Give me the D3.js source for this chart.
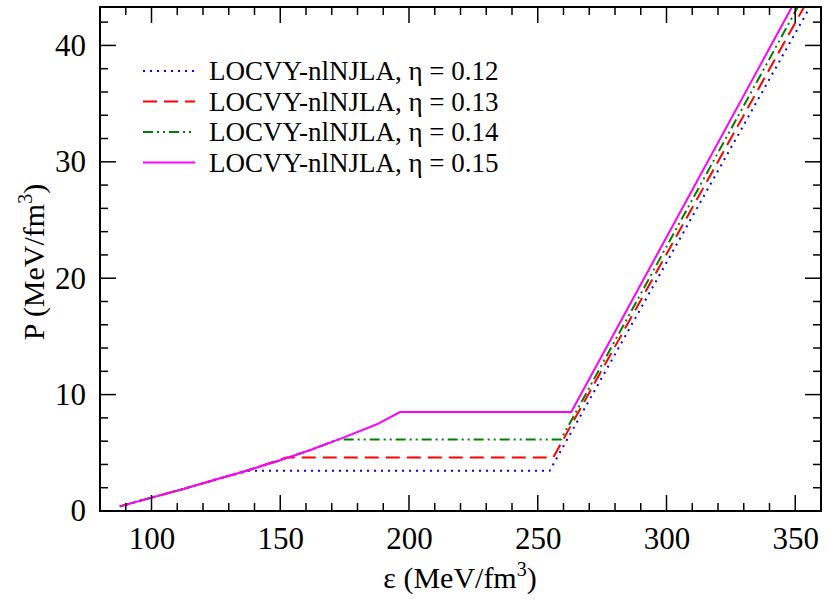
<!DOCTYPE html>
<html><head><meta charset="utf-8">
<script src="https://cdn.jsdelivr.net/npm/d3@7"></script>
<style>body{margin:0;background:#fff}text{font-family:"Liberation Serif","Times New Roman",serif}</style>
</head><body><svg id="c" width="828" height="602"></svg>
<script>
const labels = ["LOCVY-nlNJLA, η = 0.12","LOCVY-nlNJLA, η = 0.13","LOCVY-nlNJLA, η = 0.14","LOCVY-nlNJLA, η = 0.15"];
const colors = ["#0000ff","#ff0000","#008000","#ff00ff"];
const dashes = ["2,5","14,7","10,4,2,4,2,4","none"];
const xTicks = [100,150,200,250,300,350];
const yTicks = [0,10,20,30,40];
const s012 = [[87.7,0.4],[100,1.15],[112.5,1.9],[125,2.7],[137.5,3.45],[254.6,3.45],[355.7,43.3]];
const s013 = [[87.7,0.4],[100,1.15],[112.5,1.9],[125,2.7],[137.5,3.5],[152.4,4.6],[256,4.6],[353.4,43.3]];
const s014 = [[87.7,0.4],[100,1.15],[112.5,1.9],[125,2.7],[137.5,3.5],[150,4.36],[162.5,5.3],[172.4,6.15],[259,6.15],[351,43.3]];
const s015 = [[87.7,0.4],[100,1.15],[112.5,1.9],[125,2.7],[137.5,3.5],[150,4.36],[162.5,5.3],[175,6.35],[187.5,7.45],[196.5,8.5],[263,8.5],[348.7,43.3]];
const series = [s012,s013,s014,s015];

const svg = d3.select("#c");
const L=100,R=821,T=7,B=511;
const x = d3.scaleLinear().domain([80,360]).range([L,R]);
const y = d3.scaleLinear().domain([0,43.3]).range([B,T]);
const g = svg.append("g");
g.append("clipPath").attr("id","cp").append("rect").attr("x",L).attr("y",T).attr("width",R-L).attr("height",B-T);
const line = d3.line().x(d=>x(d[0])).y(d=>y(d[1]));
series.forEach((s,i)=>{
  g.append("path").attr("d",line(s)).attr("clip-path","url(#cp)").attr("fill","none")
   .attr("stroke",colors[i]).attr("stroke-width",2).attr("stroke-dasharray",dashes[i]);
});
g.append("rect").attr("x",L).attr("y",T).attr("width",R-L).attr("height",B-T).attr("fill","none").attr("stroke","#000").attr("stroke-width",2);
const xb = d3.axisBottom(x).tickValues(xTicks).tickSize(0).tickPadding(10);
const ax = g.append("g").attr("transform",`translate(0,${B})`).call(xb).attr("font-family",null);
ax.select(".domain").remove();
ax.selectAll("text").attr("font-size",31).attr("fill","#000").attr("dy","0.9em");
const yl = d3.axisLeft(y).tickValues(yTicks).tickSize(0).tickPadding(14);
const ay = g.append("g").attr("transform",`translate(${L},0)`).call(yl).attr("font-family",null);
ay.select(".domain").remove();
ay.selectAll("text").attr("font-size",31).attr("fill","#000");
const tk = g.append("g").attr("stroke","#000").attr("stroke-width",1.5);
d3.range(80,361,10).forEach(v=>{
  const big = v%50===0, len = big?16:8;
  [[B,-len],[T,len]].forEach(([p,l])=>tk.append("line").attr("x1",x(v)).attr("x2",x(v)).attr("y1",p).attr("y2",p+l));
});
d3.range(0,43.3,2).forEach(v=>{
  const big = v%10===0, len = big?16:8;
  tk.append("line").attr("x1",L).attr("x2",L+len).attr("y1",y(v)).attr("y2",y(v));
  tk.append("line").attr("x1",R).attr("x2",R-len).attr("y1",y(v)).attr("y2",y(v));
});
labels.forEach((lab,i)=>{
  const yy = 71+i*30.5;
  g.append("line").attr("x1",143).attr("x2",195).attr("y1",yy).attr("y2",yy)
   .attr("stroke",colors[i]).attr("stroke-width",2).attr("stroke-dasharray",dashes[i]);
  g.append("text").attr("x",209).attr("y",yy+9).attr("font-size",27).text(lab);
});
const xt = svg.append("text").attr("x",460).attr("y",588).attr("text-anchor","middle").attr("font-size",30);
xt.append("tspan").text("ε (MeV/fm");
xt.append("tspan").attr("font-size",20).attr("dy",-12).text("3");
xt.append("tspan").attr("dy",12).text(")");
const yt = svg.append("text").attr("transform","translate(44,262) rotate(-90)").attr("text-anchor","middle").attr("font-size",30);
yt.append("tspan").text("P (MeV/fm");
yt.append("tspan").attr("font-size",20).attr("dy",-12).text("3");
yt.append("tspan").attr("dy",12).text(")");
</script></body></html>
